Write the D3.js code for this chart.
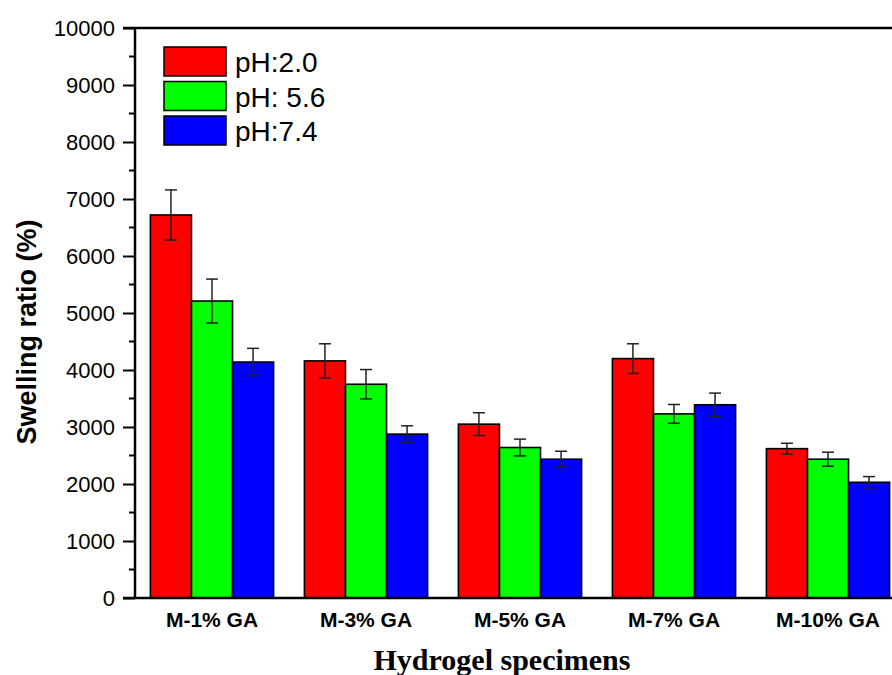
<!DOCTYPE html>
<html>
<head>
<meta charset="utf-8">
<script src="https://cdn.jsdelivr.net/npm/d3@7"></script>
<style>
  body { margin: 0; background: #fff; }
  svg { display: block; }
</style>
</head>
<body>
<div id="chart"></div>
<script>
// data
var specimens = ["M-1% GA", "M-3% GA", "M-5% GA", "M-7% GA", "M-10% GA"];
var seriesNames = ["pH:2.0", "pH: 5.6", "pH:7.4"];
var seriesColors = ["#ff0000", "#00ff00", "#0000ff"];
var ph20 = [6720, 4160, 3050, 4200, 2620];
var ph56 = [5210, 3750, 2640, 3230, 2435];
var ph74 = [4140, 2875, 2435, 3390, 2030];
var err20 = [440, 300, 200, 260, 95];
var err56 = [385, 258, 147, 165, 123];
var err74 = [240, 146, 140, 205, 100];
var yTicks = [0, 1000, 2000, 3000, 4000, 5000, 6000, 7000, 8000, 9000, 10000];

var values = [ph20, ph56, ph74];
var errors = [err20, err56, err74];

var W = 892, H = 675;
// plot box (right edge runs past the picture, like the original crop)
var pl = 135, pt = 28, pb = 598, pr = 905;

var svg = d3.select("#chart").append("svg")
  .attr("width", W).attr("height", H);

var x = d3.scaleBand().domain(specimens).range([pl, pr]).paddingInner(0.2).paddingOuter(0.1);
var xs = d3.scaleBand().domain(d3.range(seriesNames.length)).range([0, x.bandwidth()]);
var y = d3.scaleLinear().domain([0, 10000]).range([pb, pt]);

// bars
var groups = svg.selectAll("g.grp")
  .data(specimens)
  .enter().append("g")
  .attr("class", "grp")
  .attr("transform", function(d) { return "translate(" + x(d) + ",0)"; });

groups.each(function(name, i) {
  var g = d3.select(this);
  seriesNames.forEach(function(s, k) {
    var v = values[k][i];
    g.append("rect")
      .attr("x", xs(k))
      .attr("y", y(v))
      .attr("width", xs.bandwidth())
      .attr("height", y(0) - y(v))
      .attr("fill", seriesColors[k])
      .attr("stroke", "#000")
      .attr("stroke-width", 1.6);
  });
});

// error bars
groups.each(function(name, i) {
  var g = d3.select(this);
  seriesNames.forEach(function(s, k) {
    var v = values[k][i], e = errors[k][i];
    var cx = xs(k) + xs.bandwidth() / 2;
    var eb = g.append("g").attr("stroke", "#222").attr("stroke-width", 1.5);
    eb.append("line").attr("x1", cx).attr("x2", cx).attr("y1", y(v + e)).attr("y2", y(v - e));
    eb.append("line").attr("x1", cx - 6).attr("x2", cx + 6).attr("y1", y(v + e)).attr("y2", y(v + e));
    eb.append("line").attr("x1", cx - 6).attr("x2", cx + 6).attr("y1", y(v - e)).attr("y2", y(v - e));
  });
});

// y axis
var yAxis = d3.axisLeft(y).tickValues(yTicks).tickSize(12).tickPadding(8).tickFormat(d3.format("d"));
var ya = svg.append("g").attr("transform", "translate(" + pl + ",0)").call(yAxis);
ya.select(".domain").remove();
ya.selectAll(".tick line").attr("stroke", "#000").attr("stroke-width", 2);
ya.selectAll("text").attr("font-family", "Arial, 'Liberation Sans', sans-serif").attr("font-size", 22).attr("fill", "#000");

// minor ticks
svg.selectAll("line.minor")
  .data(d3.range(500, 10000, 1000))
  .enter().append("line")
  .attr("class", "minor")
  .attr("x1", pl - 6).attr("x2", pl)
  .attr("y1", function(d) { return y(d); }).attr("y2", function(d) { return y(d); })
  .attr("stroke", "#000").attr("stroke-width", 2);

// frame lines
svg.append("line").attr("x1", pl).attr("x2", pl).attr("y1", pt - 1).attr("y2", pb + 1)
  .attr("stroke", "#000").attr("stroke-width", 2.5);
svg.append("line").attr("x1", pl - 12).attr("x2", W).attr("y1", pt).attr("y2", pt)
  .attr("stroke", "#000").attr("stroke-width", 2.5);
svg.append("line").attr("x1", pl - 12).attr("x2", W).attr("y1", pb).attr("y2", pb)
  .attr("stroke", "#000").attr("stroke-width", 2.5);

// x labels
svg.selectAll("text.xl")
  .data(specimens)
  .enter().append("text")
  .attr("class", "xl")
  .attr("x", function(d) { return x(d) + x.bandwidth() / 2; })
  .attr("y", 627)
  .attr("text-anchor", "middle")
  .attr("font-family", "Arial, 'Liberation Sans', sans-serif")
  .attr("font-weight", "bold")
  .attr("font-size", 21)
  .text(function(d) { return d; });

// axis titles
svg.append("text")
  .attr("x", 502).attr("y", 670)
  .attr("text-anchor", "middle")
  .attr("font-family", "'Times New Roman', 'Liberation Serif', serif")
  .attr("font-weight", "bold")
  .attr("font-size", 30)
  .text("Hydrogel specimens");

svg.append("text")
  .attr("transform", "translate(36,332) rotate(-90)")
  .attr("text-anchor", "middle")
  .attr("font-family", "Arial, 'Liberation Sans', sans-serif")
  .attr("font-weight", "bold")
  .attr("font-size", 27)
  .text("Swelling ratio (%)");

// legend
var leg = svg.selectAll("g.leg")
  .data(seriesNames)
  .enter().append("g")
  .attr("class", "leg")
  .attr("transform", function(d, i) { return "translate(164," + (47 + i * 34.5) + ")"; });
leg.append("rect")
  .attr("width", 62).attr("height", 29)
  .attr("fill", function(d, i) { return seriesColors[i]; })
  .attr("stroke", "#000").attr("stroke-width", 1.5);
leg.append("text")
  .attr("x", 71).attr("y", 25)
  .attr("font-family", "Arial, 'Liberation Sans', sans-serif")
  .attr("font-size", 28)
  .text(function(d) { return d; });
</script>
</body>
</html>
